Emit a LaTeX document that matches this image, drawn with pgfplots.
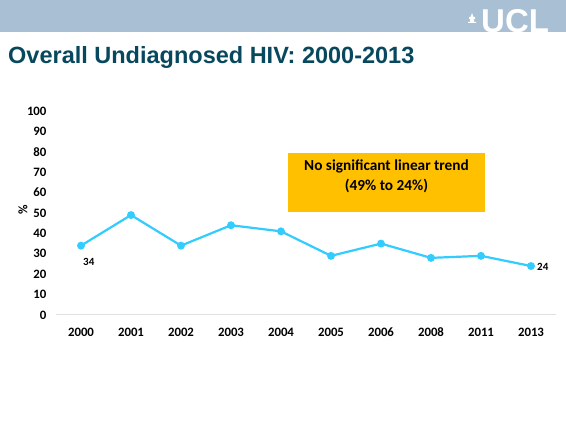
\documentclass[border=0pt]{standalone}
\usepackage{pgfplots}
\pgfplotsset{compat=1.18}
\usepackage{fontspec}
\setmainfont{Liberation Sans}
\newfontfamily\carlito{Carlito}
\definecolor{banner}{RGB}{169,191,212}
\definecolor{titlecol}{RGB}{8,72,94}
\definecolor{linecol}{RGB}{51,204,255}
\definecolor{boxcol}{RGB}{255,192,0}
\begin{document}
\begin{tikzpicture}
\fill[white] (0pt,0pt) rectangle (566pt,423pt);
\fill[banner] (0pt,391pt) rectangle (566pt,423pt);
\node[anchor=base west,inner sep=0pt,text=white,font=\fontsize{33}{33}\selectfont\bfseries] at (481pt,390pt) {UCL};
\fill[white] (469pt,406pt) rectangle (475pt,404pt) (470pt,404pt) rectangle (474pt,401pt) (468pt,401pt) rectangle (476pt,400pt);
\fill[white] (470.5pt,406pt) -- (472pt,410pt) -- (473.5pt,406pt) -- cycle;
\node[anchor=base west,inner sep=0pt,text=titlecol,font=\fontsize{23.5}{26}\selectfont\bfseries] at (8pt,359pt) {Overall Undiagnosed HIV: 2000-2013};
\begin{axis}[
  at={(56pt,108pt)}, anchor=south west,
  scale only axis, width=500pt, height=204pt,
  xmin=-0.5, xmax=9.5, ymin=0, ymax=100,
  axis x line*=bottom, axis y line*=left,
  y axis line style={draw=none},
  x axis line style={draw=black!12, line width=1pt},
  xtick={0,...,9},
  xticklabels={2000,2001,2002,2003,2004,2005,2006,2008,2011,2013},
  ytick={0,10,...,100},
  major tick length=0pt,
  /pgf/number format/assume math mode=true,
  tick label style={font=\carlito\bfseries\fontsize{12.8}{14}\selectfont},
  xticklabel style={text height=9pt, text depth=0pt, yshift=-9pt},
  yticklabel style={xshift=-6pt},
  clip=false,
]
\addplot[color=linecol, line width=2.2pt, mark=*, mark size=2.8pt, mark options={fill=linecol,draw=linecol}]
  coordinates {(0,34)(1,49)(2,34)(3,44)(4,41)(5,29)(6,35)(7,28)(8,29)(9,24)};
\node[font=\carlito\bfseries\fontsize{11}{12}\selectfont,anchor=north west,inner sep=0pt] at (axis cs:0,34) [xshift=2pt,yshift=-12pt] {34};
\node[font=\carlito\bfseries\fontsize{11}{12}\selectfont,anchor=west,inner sep=0pt] at (axis cs:9,24) [xshift=6pt,yshift=-1pt] {24};
\end{axis}
\node[rotate=90,font=\carlito\bfseries\fontsize{13}{14}\selectfont,inner sep=0pt] at (23pt,213pt) {\%};
\fill[boxcol] (288pt,211pt) rectangle (485pt,270pt);
\node[align=center,font=\carlito\bfseries\fontsize{15.3}{20}\selectfont] at (386.5pt,247pt) {No significant linear trend\\(49\% to 24\%)};
\end{tikzpicture}
\end{document}
